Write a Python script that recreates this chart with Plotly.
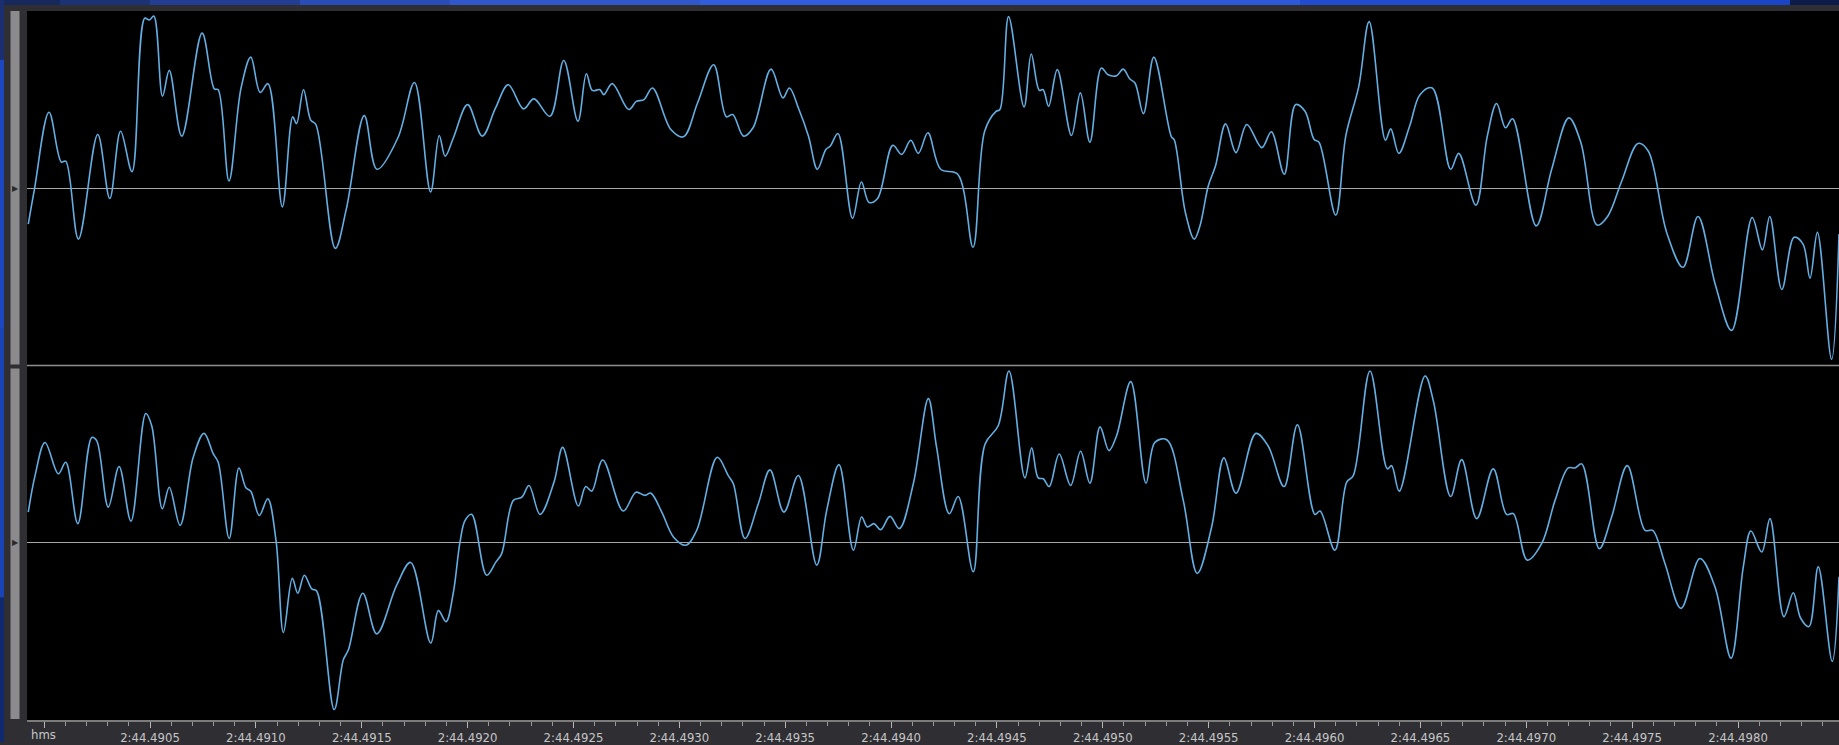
import plotly.graph_objects as go
from plotly.subplots import make_subplots

# ---------------- data ----------------
# time axis: milliseconds after 2:44.489 (164.489 s); amplitude normalised to [-1, 1]
top_t = [0.925, 0.954, 1.023, 1.081, 1.102, 1.162, 1.253, 1.310, 1.361, 1.415,
         1.475, 1.497, 1.518, 1.559, 1.591, 1.650, 1.746, 1.804, 1.822, 1.873,
         1.930, 1.976, 2.020, 2.057, 2.125, 2.174, 2.192, 2.225, 2.259, 2.283,
         2.375, 2.427, 2.512, 2.572, 2.671, 2.749, 2.825, 2.866, 2.894, 2.933,
         3.000, 3.069, 3.132, 3.192, 3.264, 3.313, 3.389, 3.454, 3.521, 3.561,
         3.589, 3.625, 3.643, 3.683, 3.761, 3.797, 3.833, 3.873, 3.960, 4.019,
         4.086, 4.162, 4.222, 4.252, 4.303, 4.348, 4.433, 4.489, 4.520, 4.565,
         4.610, 4.652, 4.692, 4.713, 4.749, 4.818, 4.860, 4.896, 4.936, 5.008,
         5.050, 5.093, 5.129, 5.174, 5.234, 5.315, 5.387, 5.442, 5.496, 5.514,
         5.555, 5.628, 5.662, 5.700, 5.718, 5.744, 5.785, 5.852, 5.894, 5.939,
         5.993, 6.025, 6.065, 6.096, 6.128, 6.152, 6.192, 6.241, 6.324, 6.337,
         6.390, 6.432, 6.459, 6.498, 6.532, 6.580, 6.629, 6.680, 6.751, 6.796,
         6.857, 6.911, 6.955, 6.998, 7.021, 7.100, 7.148, 7.209, 7.258, 7.335,
         7.360, 7.398, 7.450, 7.498, 7.556, 7.643, 7.681, 7.762, 7.816, 7.860,
         7.902, 7.935, 8.047, 8.120, 8.201, 8.258, 8.335, 8.384, 8.451, 8.528,
         8.576, 8.663, 8.740, 8.811, 8.894, 8.970, 9.067, 9.115, 9.150, 9.207,
         9.265, 9.307, 9.340, 9.375, 9.442, 9.477]
top_a = [-0.202, -0.006, 0.429, 0.148, 0.153, -0.287, 0.303, -0.058, 0.322, 0.094,
         0.959, 0.949, 0.972, 0.519, 0.665, 0.294, 0.875, 0.560, 0.556, 0.041,
         0.566, 0.740, 0.541, 0.590, -0.105, 0.403, 0.365, 0.556, 0.384, 0.360,
         -0.339, -0.118, 0.410, 0.107, 0.285, 0.597, -0.021, 0.298, 0.181, 0.285,
         0.472, 0.294, 0.453, 0.584, 0.448, 0.504, 0.406, 0.721, 0.378, 0.646,
         0.552, 0.556, 0.528, 0.590, 0.444, 0.490, 0.500, 0.566, 0.331, 0.290,
         0.481, 0.697, 0.403, 0.416, 0.294, 0.341, 0.672, 0.510, 0.566, 0.444,
         0.294, 0.107, 0.219, 0.238, 0.309, -0.170, 0.035, -0.080, -0.058, 0.242,
         0.191, 0.271, 0.197, 0.313, 0.107, 0.079, -0.333, 0.322, 0.434, 0.444,
         0.968, 0.459, 0.757, 0.552, 0.556, 0.462, 0.669, 0.298, 0.538, 0.260,
         0.678, 0.640, 0.635, 0.672, 0.616, 0.594, 0.421, 0.740, 0.290, 0.275,
         -0.137, -0.287, -0.212, 0.013, 0.125, 0.363, 0.201, 0.360, 0.229, 0.319,
         0.079, 0.472, 0.434, 0.275, 0.260, -0.152, 0.298, 0.575, 0.940, 0.271,
         0.335, 0.197, 0.354, 0.528, 0.566, 0.107, 0.197, -0.096, 0.294, 0.478,
         0.341, 0.392, -0.212, 0.107, 0.397, 0.257, -0.208, -0.159, 0.041, 0.253,
         0.210, -0.249, -0.446, -0.159, -0.549, -0.802, -0.165, -0.347, -0.159, -0.571,
         -0.277, -0.315, -0.507, -0.249, -0.965, -0.258]

bot_t = [0.925, 0.957, 1.004, 1.067, 1.102, 1.159, 1.225, 1.248, 1.303, 1.354,
         1.410, 1.480, 1.508, 1.558, 1.591, 1.642, 1.704, 1.755, 1.799, 1.822,
         1.874, 1.920, 1.953, 1.976, 2.016, 2.056, 2.095, 2.130, 2.172, 2.198,
         2.229, 2.264, 2.287, 2.370, 2.413, 2.437, 2.505, 2.571, 2.665, 2.731,
         2.826, 2.862, 2.898, 2.932, 2.964, 2.988, 3.019, 3.090, 3.134, 3.161,
         3.216, 3.256, 3.290, 3.342, 3.408, 3.449, 3.523, 3.558, 3.586, 3.638,
         3.735, 3.795, 3.838, 3.865, 3.917, 3.972, 4.031, 4.082, 4.179, 4.231,
         4.255, 4.310, 4.373, 4.428, 4.494, 4.562, 4.649, 4.696, 4.754, 4.822,
         4.861, 4.888, 4.919, 4.951, 4.995, 5.039, 5.105, 5.176, 5.215, 5.275,
         5.317, 5.388, 5.444, 5.506, 5.557, 5.632, 5.664, 5.695, 5.719, 5.747,
         5.794, 5.848, 5.895, 5.939, 5.987, 6.029, 6.065, 6.132, 6.204, 6.246,
         6.302, 6.380, 6.446, 6.514, 6.572, 6.629, 6.723, 6.781, 6.856, 6.919,
         7.002, 7.026, 7.096, 7.152, 7.183, 7.262, 7.344, 7.364, 7.400, 7.522,
         7.561, 7.643, 7.695, 7.766, 7.844, 7.907, 7.939, 8.005, 8.073, 8.136,
         8.198, 8.230, 8.262, 8.345, 8.403, 8.477, 8.561, 8.597, 8.655, 8.731,
         8.820, 8.891, 8.967, 9.025, 9.061, 9.112, 9.151, 9.217, 9.261, 9.296,
         9.335, 9.379, 9.445, 9.477]
bot_a = [0.173, 0.379, 0.566, 0.389, 0.454, 0.108, 0.594, 0.576, 0.201, 0.430,
         0.122, 0.729, 0.660, 0.192, 0.313, 0.098, 0.482, 0.617, 0.501, 0.454,
         0.024, 0.422, 0.310, 0.291, 0.154, 0.248, 0.014, -0.507, -0.201, -0.285,
         -0.183, -0.260, -0.272, -0.941, -0.660, -0.604, -0.285, -0.514, -0.239, -0.111,
         -0.566, -0.383, -0.445, -0.285, 0.004, 0.126, 0.160, -0.183, -0.108, -0.061,
         0.239, 0.257, 0.323, 0.160, 0.342, 0.538, 0.207, 0.317, 0.291, 0.467,
         0.179, 0.285, 0.267, 0.280, 0.173, 0.033, -0.014, 0.070, 0.482, 0.379,
         0.333, 0.024, 0.220, 0.411, 0.173, 0.379, -0.126, 0.183, 0.441, -0.042,
         0.145, 0.089, 0.108, 0.074, 0.149, 0.080, 0.333, 0.813, 0.538, 0.164,
         0.261, -0.164, 0.557, 0.660, 0.969, 0.366, 0.535, 0.366, 0.361, 0.317,
         0.501, 0.323, 0.516, 0.336, 0.654, 0.520, 0.604, 0.909, 0.336, 0.566,
         0.581, 0.239, -0.173, 0.089, 0.479, 0.280, 0.617, 0.546, 0.317, 0.666,
         0.160, 0.179, -0.042, 0.342, 0.379, 0.969, 0.417, 0.435, 0.291, 0.941,
         0.801, 0.261, 0.469, 0.136, 0.417, 0.160, 0.164, -0.098, -0.004, 0.239,
         0.422, 0.422, 0.445, -0.033, 0.145, 0.435, 0.070, 0.070, -0.117, -0.370,
         -0.089, -0.248, -0.651, -0.136, 0.066, -0.052, 0.136, -0.417, -0.282, -0.426,
         -0.473, -0.136, -0.670, -0.192]

tick_ms = [1.0, 1.5, 2.0, 2.5, 3.0, 3.5, 4.0, 4.5, 5.0, 5.5, 6.0, 6.5, 7.0, 7.5, 8.0, 8.5, 9.0]
tick_text = ["", "2:44.4905", "2:44.4910", "2:44.4915", "2:44.4920", "2:44.4925",
             "2:44.4930", "2:44.4935", "2:44.4940", "2:44.4945", "2:44.4950",
             "2:44.4955", "2:44.4960", "2:44.4965", "2:44.4970", "2:44.4975",
             "2:44.4980"]
x_range = [0.919, 9.477]
unit_label = "hms"

# ---------------- layout geometry ----------------
W, H = 1839, 745
ML, MR, MT, MB = 27, 0, 11, 22
PW, PH = W - ML - MR, H - MT - MB


def px(p):
    return (p - ML) / PW


def py(p):
    return (H - MB - p) / PH


WAVE = "#63aee2"
FONT = "DejaVu Sans"

fig = make_subplots(rows=2, cols=1, shared_xaxes=True, vertical_spacing=0)
fig.add_trace(go.Scatter(x=top_t, y=top_a, mode="lines",
                         line=dict(color=WAVE, width=1.6, shape="spline", smoothing=1.0),
                         hoverinfo="skip", showlegend=False), row=1, col=1)
fig.add_trace(go.Scatter(x=bot_t, y=bot_a, mode="lines",
                         line=dict(color=WAVE, width=1.6, shape="spline", smoothing=1.0),
                         hoverinfo="skip", showlegend=False), row=2, col=1)

yax = dict(range=[-1, 1], showgrid=False, showticklabels=False, ticks="",
           zeroline=True, zerolinecolor="#a6a6a6", zerolinewidth=1, showline=False,
           fixedrange=True)
fig.update_layout(
    width=W, height=H, autosize=False,
    margin=dict(l=ML, r=MR, t=MT, b=MB, pad=0),
    paper_bgcolor="#2e2e33", plot_bgcolor="#000000",
    xaxis=dict(range=x_range, showgrid=False, zeroline=False, showticklabels=False,
               ticks="", showline=False),
    xaxis2=dict(range=x_range, showgrid=False, zeroline=False,
                tickmode="array", tickvals=tick_ms, ticktext=tick_text,
                ticks="outside", ticklen=6, tickwidth=1, tickcolor="#b8b8b8",
                tickfont=dict(family=FONT, size=11.7, color="#c6c6c6"),
                minor=dict(tickmode="linear", tick0=0, dtick=0.1, ticks="outside",
                           ticklen=4, tickwidth=1, tickcolor="#9a9a9a", showgrid=False),
                showline=True, linecolor="#7c7c7c", linewidth=2),
    yaxis=dict(domain=[0.5, 1], **yax),
    yaxis2=dict(domain=[0, 0.5], **yax),
)

shapes = []
# top blue strip (desktop gradient)
top_strip = [(0, 60, "#16285c"), (60, 150, "#1b3274"), (150, 300, "#223d92"),
             (300, 450, "#2a4cb6"), (450, 700, "#3157cc"), (700, 1000, "#2f5ddc"),
             (1000, 1300, "#2b59d8"), (1300, 1600, "#214cd0"), (1600, 1790, "#1945c6"),
             (1790, 1839, "#0d1b4a")]
for a, b, c in top_strip:
    shapes.append(dict(type="rect", xref="paper", yref="paper", x0=px(a), x1=px(b),
                       y0=py(5), y1=py(0), fillcolor=c, line=dict(width=0), layer="above"))
left_strip = [(0, 60, "#1a2e70"), (60, 330, "#1c47c0"), (330, 600, "#1a43b6"),
              (600, 745, "#10286e")]
for a, b, c in left_strip:
    shapes.append(dict(type="rect", xref="paper", yref="paper", x0=px(0), x1=px(4),
                       y0=py(b), y1=py(a), fillcolor=c, line=dict(width=0), layer="above"))
# channel scroll bars
for a, b in [(11, 366), (370, 722)]:
    shapes.append(dict(type="rect", xref="paper", yref="paper", x0=px(10.5), x1=px(19.5),
                       y0=py(b), y1=py(a), fillcolor="#8b8b8d", line=dict(width=0),
                       layer="above"))
# channel separator
shapes.append(dict(type="line", xref="paper", yref="paper", x0=0, x1=1, y0=0.5, y1=0.5,
                   line=dict(color="#8e8e8e", width=1.5), layer="above"))
fig.update_layout(shapes=shapes)

annotations = [dict(text=unit_label, xref="paper", yref="paper", x=px(29), y=py(738),
                    xanchor="left", yanchor="middle", showarrow=False,
                    font=dict(family=FONT, size=11.7, color="#c6c6c6"))]
for yc in (0.75, 0.25):
    annotations.append(dict(text="\u25B6", xref="paper", yref="paper", x=px(15), y=yc,
                            xanchor="center", yanchor="middle", showarrow=False,
                            font=dict(family=FONT, size=8, color="#2a2a2a")))
fig.update_layout(annotations=annotations)

fig.write_html("out.html", config={"displayModeBar": False})
